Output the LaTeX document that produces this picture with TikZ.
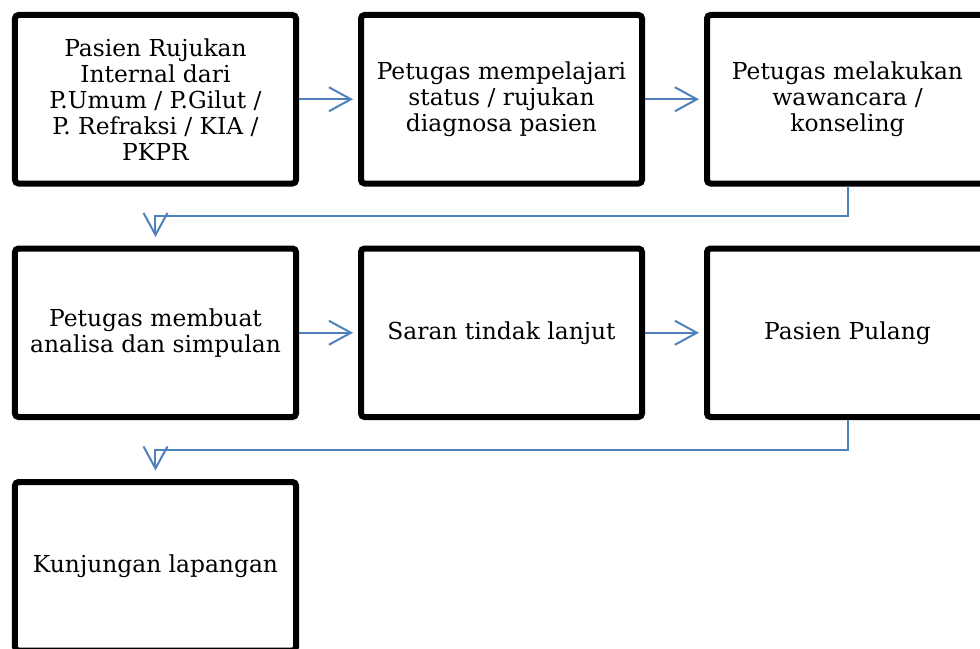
\documentclass[tikz,border=0pt]{standalone}
\usepackage{fontspec}
\setmainfont{DejaVu Serif}
\usetikzlibrary{arrows.meta,positioning}
\definecolor{flowblue}{RGB}{79,129,189}

\begin{document}
\begin{tikzpicture}[
    node distance=1.3cm,
    process/.style={rectangle, draw, line width=0.12cm, rounded corners=2pt, outer sep=0pt,
        minimum width=5.62cm, minimum height=3.37cm, align=center,
        font=\fontsize{13.3}{14.8}\selectfont},
    arrow/.style={-{Straight Barb[length=0.44cm, width=0.48cm]}, flowblue, line width=0.04cm,
        shorten <=0.05cm, shorten >=0.16cm}
]
    \path[use as bounding box, clip] (-3.11,1.985) rectangle (16.49,-10.975);

    \node[process] (P1) {Pasien Rujukan\\Internal dari\\P.Umum / P.Gilut /\\P. Refraksi / KIA /\\PKPR};
    \node[process, right=of P1] (P2) {Petugas mempelajari\\status / rujukan\\diagnosa pasien};
    \node[process, right=of P2] (P3) {Petugas melakukan\\wawancara /\\konseling};
    \node[process, below=of P1] (P4) {Petugas membuat\\analisa dan simpulan};
    \node[process, right=of P4] (P5) {Saran tindak lanjut};
    \node[process, right=of P5] (P6) {Pasien Pulang};
    \node[process, below=of P4] (P7) {Kunjungan lapangan};

    \draw[arrow] (P1) -- (P2);
    \draw[arrow] (P2) -- (P3);
    \draw[arrow, shorten >=0.23cm] (P3.south) -- ++(0,-0.65) -| (P4.north);
    \draw[arrow] (P4) -- (P5);
    \draw[arrow] (P5) -- (P6);
    \draw[arrow, shorten >=0.23cm] (P6.south) -- ++(0,-0.65) -| (P7.north);
\end{tikzpicture}
\end{document}
